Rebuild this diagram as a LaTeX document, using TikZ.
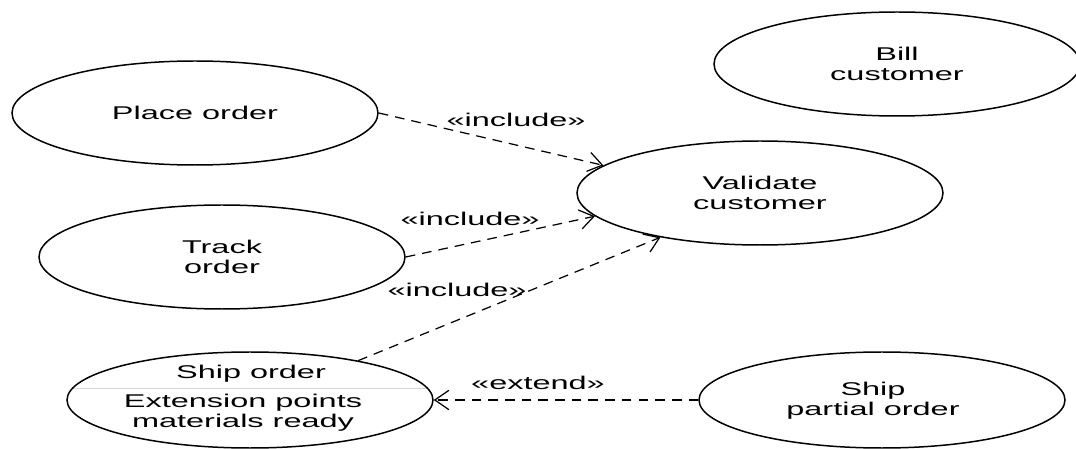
\documentclass[tikz,border=0pt]{standalone}
\usepackage{fontspec}
\setmainfont{Liberation Sans}[FakeStretch=1.76]
\usetikzlibrary{shapes.geometric,arrows.meta}

\begin{document}
\begin{tikzpicture}[x=0.02cm, y=-0.02cm,
  every node/.style={font=\fontsize{10.5}{11.3}\selectfont, align=center},
  usecase/.style={ellipse, draw, line width=0.85pt, inner sep=0pt,
    minimum width=366*0.02cm, minimum height=104*0.02cm},
  usecaselow/.style={usecase, minimum height=96*0.02cm},
  dep/.style={dashed, dash pattern=on 5.5pt off 4pt, line width=0.7pt,
    -{Straight Barb[length=8pt, width=11pt, line width=0.7pt]}},
  stereo/.style={inner sep=0pt}
]
  % canvas
  \fill[white] (0,0) rectangle (1076,449);
  \useasboundingbox (0,0) rectangle (1076,449);

  % use cases
  \node[usecase] (place) at (195,113) {Place order};
  \node[usecase] (track) at (222,257) {Track\\order};
  \node[usecase] (validate) at (760,193) {Validate\\customer};
  \node[usecase] (bill) at (897,64) {Bill\\customer};
  \node[usecaselow] (partial) at (882,400) {};
  \node (partialtext) at (873,401) {Ship\\partial order};
  \node[usecaselow,
    path picture={\draw[black!15, line width=0.5pt]
      ([yshift=0.24cm]path picture bounding box.west) --
      ([yshift=0.24cm]path picture bounding box.east);}] (ship) at (250,400) {};
  \node (shiptitle) at (251,374) {Ship order};
  \node (shipext) at (243,413) {Extension points\\materials ready};

  % include dependencies
  \draw[dep] (place.east) -- (validate.170);
  \draw[dep] (track.east) -- (validate.188);
  \draw[dep] (ship.20) -- (validate.204);
  \node[stereo] (inc1) at (516,120) {«include»};
  \node[stereo] (inc2) at (470,219) {«include»};
  \node[stereo] (inc3) at (457,290) {«include»};

  % extend dependency
  \draw[dep] (partial.west) -- (ship.east);
  \node[stereo] (ext) at (538,383) {«extend»};
\end{tikzpicture}
\end{document}
